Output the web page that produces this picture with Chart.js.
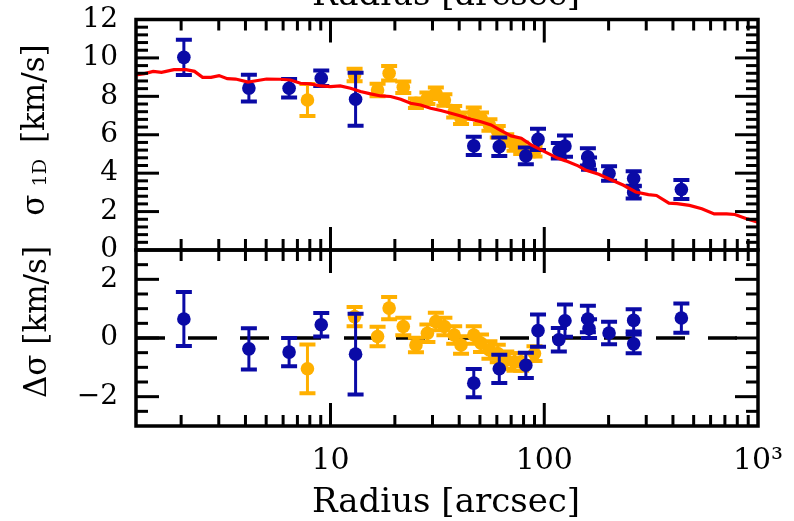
<!DOCTYPE html>
<html>
<head>
<meta charset="utf-8">
<script src="https://cdn.jsdelivr.net/npm/chart.js@4.4.1/dist/chart.umd.min.js"></script>
<style>
  html, body { margin: 0; padding: 0; background: #fff; }
  #wrap { position: relative; width: 794px; height: 521px; overflow: hidden; background: #fff; }
  #c { position: absolute; left: 0; top: 0; }
  .lbl { position: absolute; font-family: "DejaVu Serif", serif; font-size: 34px; line-height: 40px;
         white-space: nowrap; color: #000; }
  .xt { transform: translateX(-50%); }
  .yt { font-size: 31px; transform: translate(-50%, -50%) rotate(-90deg); }
  .yt sub { font-size: 0.62em; vertical-align: -0.12em; margin: 0 6px 0 8px; }
</style>
</head>
<body>
<div id="wrap">
  <canvas id="c" width="794" height="521"></canvas>
  <div class="lbl xt" style="left:446px; top:-27px;">Radius [arcsec]</div>
  <div class="lbl xt" style="left:446px; top:480px;">Radius [arcsec]</div>
  <div class="lbl yt" style="left:37px; top:130px;">σ<sub>1D</sub> [km/s]</div>
  <div class="lbl yt" style="left:35px; top:322px;">Δσ [km/s]</div>
</div>
<script>
// ---- data ----
const X_MIN = 1.23;
const X_MAX = 1000;
const xTickVals = [10, 100, 1000];
const xTickLabels = ["10", "100", "10³"];
const sigmaTicks = [0, 2, 4, 6, 8, 10, 12];
const residTicks = [-2, 0, 2];

// blue points (radius, sigma, error, residual)
const blueR = [2.06, 4.15, 6.4, 9.05, 13.1, 46.8, 61.6, 82, 93.5, 117, 125, 160, 162, 201, 262, 262, 438];
const blueV = [10.03, 8.43, 8.42, 8.94, 7.85, 5.42, 5.38, 4.9, 5.76, 5.17, 5.41, 4.85, 4.5, 3.98, 3.72, 3.0, 3.15];
const blueErr = [0.92, 0.7, 0.48, 0.4, 1.38, 0.48, 0.48, 0.43, 0.55, 0.4, 0.55, 0.45, 0.32, 0.38, 0.38, 0.32, 0.5];
const blueRes = [0.65, -0.37, -0.48, 0.45, -0.55, -1.54, -1.05, -0.93, 0.25, -0.06, 0.59, 0.65, 0.32, 0.17, 0.6, -0.2, 0.68];

// orange points
const orangeR = [7.8, 12.96, 16.6, 18.8, 21.9, 25.1, 28.4, 31.1, 34.1, 37.9, 40.8, 46.8, 50.6, 55.4, 60.6, 66.4, 72.6, 78, 90];
const orangeV = [7.81, 9.11, 8.33, 9.2, 8.47, 7.64, 7.9, 8.16, 7.81, 7.2, 6.86, 7.12, 6.86, 6.51, 6.16, 5.73, 5.47, 5.3, 5.12];
const orangeErr = [0.83, 0.33, 0.33, 0.38, 0.3, 0.25, 0.3, 0.3, 0.3, 0.3, 0.3, 0.3, 0.3, 0.3, 0.3, 0.3, 0.3, 0.3, 0.25];
const orangeRes = [-1.05, 0.73, 0.05, 1.02, 0.39, -0.24, 0.16, 0.56, 0.39, 0.1, -0.24, 0.1, -0.18, -0.41, -0.53, -0.76, -0.82, -0.82, -0.53];

// model curve (red)
const modelR = [1.23, 1.35, 1.48, 1.62, 1.85, 2.11, 2.31, 2.52, 2.76, 3.01, 3.29, 3.6, 4.11, 4.49, 5.02, 5.82,
  6.49, 7.23, 8.06, 8.98, 10, 11.1, 12.4, 13.8, 15.4, 17.2, 19.1, 21.3, 23.7, 26.4, 29.4, 32.8, 36.6, 40.7,
  45.4, 50.6, 56.4, 62.8, 70, 78, 86.8, 100.3, 116, 126, 144, 157, 180, 205, 235, 268, 307, 335, 383, 418,
  478, 546, 624, 713, 780, 891, 1000];
const modelV = [9.12, 9.18, 9.3, 9.25, 9.39, 9.39, 9.3, 8.99, 8.99, 9.08, 8.92, 8.9, 8.74, 8.81, 8.9, 8.89,
  8.85, 8.68, 8.65, 8.54, 8.51, 8.54, 8.42, 8.25, 8.13, 8.02, 7.99, 7.85, 7.64, 7.55, 7.38, 7.26, 7.12, 6.98,
  6.81, 6.68, 6.51, 6.22, 5.94, 5.82, 5.47, 5.12, 4.77, 4.64, 4.38, 4.15, 3.94, 3.66, 3.37, 3.02, 2.88, 2.84,
  2.44, 2.41, 2.32, 2.15, 1.88, 1.88, 1.85, 1.62, 1.45];

const BLUE = "#0a0aa6";
const ORANGE = "#ffb000";
const RED = "#ff0000";
const FONT = "DejaVu Serif";

const pts = (xs, ys) => xs.map((x, i) => ({ x, y: ys[i] }));

// keep the plot box where the figure has it: no extra room for edge labels
const noEdgePad = (axis) => {
  axis.paddingTop = 0; axis.paddingBottom = 0;
  axis.paddingLeft = 0; axis.paddingRight = 0;
};

// vertical error bars with caps, drawn under each dataset's markers
const errorBars = {
  id: "errorBars",
  beforeDatasetDraw(chart, args) {
    const ds = chart.data.datasets[args.index];
    if (!ds.errors) return;
    const meta = args.meta;
    const ys = chart.scales[meta.yAxisID];
    const xs = chart.scales.x;
    const ctx = chart.ctx;
    ctx.save();
    ctx.beginPath();
    ctx.rect(xs.left, ys.top, xs.right - xs.left, ys.bottom - ys.top);
    ctx.clip();
    ctx.strokeStyle = ds.borderColor;
    ds.data.forEach((p, i) => {
      const x = meta.data[i].x;
      const hi = ys.getPixelForValue(p.y + ds.errors[i]);
      const lo = ys.getPixelForValue(p.y - ds.errors[i]);
      ctx.lineWidth = 3;
      ctx.beginPath();
      ctx.moveTo(x, hi); ctx.lineTo(x, lo);
      ctx.stroke();
      ctx.lineWidth = 4;
      ctx.beginPath();
      ctx.moveTo(x - 8, hi); ctx.lineTo(x + 8, hi);
      ctx.moveTo(x - 8, lo); ctx.lineTo(x + 8, lo);
      ctx.stroke();
    });
    ctx.restore();
  }
};

// box frames + inward ticks on all sides of both panels
const frameTicks = {
  id: "frameTicks",
  afterDraw(chart) {
    const ctx = chart.ctx;
    const xs = chart.scales.x;
    const panels = [
      { s: chart.scales.y, minor: 0.4, major: 2 },
      { s: chart.scales.y2, minor: 0.5, major: 2 }
    ];
    const seg = (x1, y1, x2, y2) => { ctx.beginPath(); ctx.moveTo(x1, y1); ctx.lineTo(x2, y2); ctx.stroke(); };
    ctx.save();
    ctx.strokeStyle = "#000";
    panels.forEach((p) => {
      const top = p.s.top, bot = p.s.bottom, l = xs.left, r = xs.right;
      ctx.lineWidth = 3;
      const n = Math.round((p.s.max - p.s.min) / p.minor);
      for (let i = 1; i < n; i++) {
        const v = p.s.min + i * p.minor;
        const q = v / p.major;
        const len = Math.abs(q - Math.round(q)) < 1e-6 ? 23 : 12;
        const py = p.s.getPixelForValue(v);
        seg(l, py, l + len, py);
        seg(r, py, r - len, py);
      }
      for (let e = 0; e <= 2; e++) {
        for (let m = 1; m <= 9; m++) {
          const v = m * Math.pow(10, e);
          if (v <= xs.min || v >= xs.max) continue;
          const len = m === 1 ? 23 : 11;
          const px = xs.getPixelForValue(v);
          seg(px, top, px, top + len);
          seg(px, bot, px, bot - len);
        }
      }
      ctx.lineWidth = 3.5;
      ctx.strokeRect(l, top, r - l, bot - top);
    });
    ctx.restore();
  }
};

new Chart(document.getElementById("c"), {
  data: {
    datasets: [
      { type: "line", data: pts(modelR, modelV), yAxisID: "y", borderColor: RED, borderWidth: 3.2,
        pointRadius: 0, tension: 0, fill: false, order: 0 },
      { type: "scatter", data: pts(blueR, blueV), errors: blueErr, yAxisID: "y", borderColor: BLUE,
        backgroundColor: BLUE, pointRadius: 6.8, borderWidth: 0, order: 1 },
      { type: "scatter", data: pts(orangeR, orangeV), errors: orangeErr, yAxisID: "y", borderColor: ORANGE,
        backgroundColor: ORANGE, pointRadius: 6.8, borderWidth: 0, order: 2 },
      { type: "scatter", data: pts(blueR, blueRes), errors: blueErr, yAxisID: "y2", borderColor: BLUE,
        backgroundColor: BLUE, pointRadius: 6.8, borderWidth: 0, order: 3 },
      { type: "scatter", data: pts(orangeR, orangeRes), errors: orangeErr, yAxisID: "y2", borderColor: ORANGE,
        backgroundColor: ORANGE, pointRadius: 6.8, borderWidth: 0, order: 4 },
      { type: "line", data: [{ x: X_MIN, y: 0 }, { x: X_MAX, y: 0 }], yAxisID: "y2", borderColor: "#000",
        borderWidth: 3.5, borderDash: [29, 23], pointRadius: 0, fill: false, order: 5 }
    ]
  },
  options: {
    responsive: false,
    animation: false,
    devicePixelRatio: 1,
    layout: { padding: { left: 0, right: 36, top: 19.5, bottom: 0 } },
    plugins: { legend: { display: false }, tooltip: { enabled: false } },
    scales: {
      x: {
        type: "logarithmic", position: "bottom", min: X_MIN, max: X_MAX,
        grid: { display: false, drawTicks: false }, border: { display: false },
        afterBuildTicks: (axis) => { axis.ticks = xTickVals.map((v) => ({ value: v })); },
        afterFit: (axis) => { axis.height = 95; noEdgePad(axis); },
        ticks: {
          autoSkip: false, maxRotation: 0, padding: 17, color: "#000",
          font: { family: FONT, size: 30 },
          callback: (v) => xTickLabels[xTickVals.indexOf(v)]
        }
      },
      // listed first so the stack puts it below the sigma panel
      y2: {
        type: "linear", position: "left", stack: "panels", stackWeight: 176, min: -3, max: 3,
        grid: { display: false, drawTicks: false }, border: { display: false },
        afterBuildTicks: (axis) => { axis.ticks = residTicks.map((v) => ({ value: v })); },
        afterFit: (axis) => { axis.width = 136; noEdgePad(axis); },
        ticks: {
          autoSkip: false, padding: 18, color: "#000", font: { family: FONT, size: 28 },
          callback: (v) => (v < 0 ? "\u2212" + Math.abs(v) : String(v))
        }
      },
      y: {
        type: "linear", position: "left", stack: "panels", stackWeight: 230.5, min: 0, max: 12,
        grid: { display: false, drawTicks: false }, border: { display: false },
        afterBuildTicks: (axis) => { axis.ticks = sigmaTicks.map((v) => ({ value: v })); },
        afterFit: (axis) => { axis.width = 136; noEdgePad(axis); },
        ticks: { autoSkip: false, padding: 18, color: "#000", font: { family: FONT, size: 28 } }
      }
    }
  },
  plugins: [errorBars, frameTicks]
});
</script>
</body>
</html>
